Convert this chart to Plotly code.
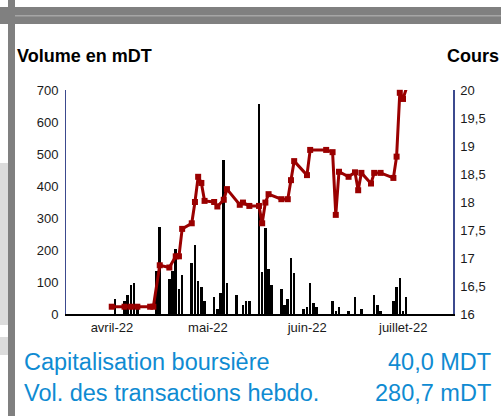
import plotly.graph_objects as go

# ---- data ----
price_dates = ["2022-03-31", "2022-04-04", "2022-04-06", "2022-04-08", "2022-04-12", "2022-04-13",
               "2022-04-15", "2022-04-18", "2022-04-20", "2022-04-21", "2022-04-22", "2022-04-25",
               "2022-04-26", "2022-04-27", "2022-04-28", "2022-04-29", "2022-05-02", "2022-05-03",
               "2022-05-05", "2022-05-06", "2022-05-10", "2022-05-11", "2022-05-13", "2022-05-16",
               "2022-05-17", "2022-05-18", "2022-05-19", "2022-05-23", "2022-05-25", "2022-05-26",
               "2022-05-27", "2022-05-31", "2022-06-01", "2022-06-06", "2022-06-08", "2022-06-09",
               "2022-06-10", "2022-06-13", "2022-06-15", "2022-06-16", "2022-06-17", "2022-06-20",
               "2022-06-21", "2022-06-23", "2022-06-27", "2022-06-28", "2022-06-29", "2022-06-30",
               "2022-07-01"]
prices = [16.13, 16.13, 16.13, 16.13, 16.13, 16.13,
          16.87, 16.83, 17.03, 17.03, 17.52, 17.62,
          18.0, 18.45, 18.34, 18.02, 18.0, 17.92,
          18.04, 18.23, 17.95, 17.99, 17.93, 17.93,
          17.62, 17.99, 18.14, 18.05, 18.05, 18.39,
          18.73, 18.48, 18.93, 18.93, 18.89, 17.77,
          18.54, 18.45, 18.53, 18.21, 18.52, 18.33,
          18.52, 18.52, 18.43, 18.81, 19.95, 19.84,
          20.02]

vol_dates = ["2022-04-01", "2022-04-04", "2022-04-05", "2022-04-06", "2022-04-07", "2022-04-08",
             "2022-04-14", "2022-04-15", "2022-04-18", "2022-04-19", "2022-04-20", "2022-04-21",
             "2022-04-22", "2022-04-25", "2022-04-26", "2022-04-27", "2022-04-28", "2022-04-29",
             "2022-05-02", "2022-05-03", "2022-05-04", "2022-05-05", "2022-05-06", "2022-05-09",
             "2022-05-11", "2022-05-12", "2022-05-13", "2022-05-16", "2022-05-17", "2022-05-18",
             "2022-05-19", "2022-05-20", "2022-05-23", "2022-05-24", "2022-05-25", "2022-05-26",
             "2022-05-27", "2022-05-30", "2022-05-31", "2022-06-01", "2022-06-02", "2022-06-03",
             "2022-06-08", "2022-06-09", "2022-06-10", "2022-06-13", "2022-06-15", "2022-06-17",
             "2022-06-21", "2022-06-22", "2022-06-23", "2022-06-27", "2022-06-28", "2022-06-29",
             "2022-06-30", "2022-07-01"]
volumes = [47, 41, 59, 90, 96, 15,
           135, 272, 109, 135, 202, 78,
           121, 159, 215, 104, 83, 41,
           52, 15, 65, 482, 96, 59,
           29, 41, 41, 656, 130, 270,
           140, 90, 78, 28, 47, 176,
           128, 15, 22, 96, 34, 21,
           41, 9, 21, 9, 52, 15,
           59, 28, 9, 41, 83, 114,
           9, 52]

month_ticks = ["2022-04-01", "2022-05-01", "2022-06-01", "2022-07-01"]
month_labels = ["avril-22", "mai-22", "juin-22", "juillet-22"]
vol_ticks = [0, 100, 200, 300, 400, 500, 600, 700]
price_ticks = [16, 16.5, 17, 17.5, 18, 18.5, 19, 19.5, 20]
price_labels = ["16", "16,5", "17", "17,5", "18", "18,5", "19", "19,5", "20"]

info_labels = ["Capitalisation boursière", "Vol. des transactions hebdo."]
info_values = ["40,0 MDT", "280,7 mDT"]

# ---- layout geometry (window pixels; body margin removed below) ----
W, H = 501, 416
L, R, T, B = 66, 48, 90, 102
PW, PH = W - L - R, H - T - B


def px(x):
    return (x - L) / PW


def py(y):
    return (H - B - y) / PH


FONT = "Arial, Liberation Sans, sans-serif"
BLUE = "#0f8bd2"
AXBLUE = "#3c4a8e"
RED = "#9a0000"

fig = go.Figure()
fig.add_trace(go.Bar(x=vol_dates, y=volumes, marker=dict(color="black", line=dict(width=0)),
                     width=0.8 * 86400000, yaxis="y", showlegend=False))
fig.add_trace(go.Scatter(x=price_dates, y=prices, yaxis="y2", mode="lines+markers",
                         line=dict(color=RED, width=3),
                         marker=dict(symbol="square", size=6, color=RED),
                         cliponaxis=False, showlegend=False))

fig.update_layout(
    width=W, height=H,
    margin=dict(l=L, r=R, t=T, b=B, pad=0),
    paper_bgcolor="white", plot_bgcolor="white",
    font=dict(family=FONT, size=13, color="#1a1a1a"),
    bargap=0,
    xaxis=dict(type="date", range=["2022-03-16 17:00", "2022-07-15 15:00"],
               tickvals=month_ticks, ticktext=month_labels, ticklabelshift=-3,
               showgrid=False, zeroline=False, showline=True, linecolor="black", linewidth=2,
               ticks="", tickfont=dict(size=13, color="#1a1a1a")),
    yaxis=dict(range=[0, 700], tickvals=vol_ticks, showgrid=False, zeroline=False,
               showline=True, linecolor=AXBLUE, linewidth=1, ticks="",
               ticklabelstandoff=4, tickfont=dict(size=13, color="#1a1a1a")),
    yaxis2=dict(range=[16, 20], overlaying="y", side="right", tickvals=price_ticks,
                ticktext=price_labels, showgrid=False, zeroline=False, showline=True,
                linecolor=AXBLUE, linewidth=1.5, ticks="", ticklabelstandoff=3,
                tickfont=dict(size=13, color="#1a1a1a")),
)

# frame decorations
shapes = [
    dict(type="rect", x0=px(0), x1=px(W), y0=py(24), y1=py(7), fillcolor="#808080", line_width=0),
    dict(type="rect", x0=px(15), x1=px(W), y0=py(16.5), y1=py(15), fillcolor="#a6a6a6", line_width=0),
    dict(type="rect", x0=px(8), x1=px(15), y0=py(H), y1=py(0), fillcolor="#808080", line_width=0),
    dict(type="rect", x0=px(0), x1=px(8), y0=py(325), y1=py(163), fillcolor="#dcdcdc", line_width=0),
    dict(type="rect", x0=px(0), x1=px(8), y0=py(355), y1=py(337), fillcolor="#dcdcdc", line_width=0),
]
for s in shapes:
    s.update(xref="paper", yref="paper", layer="above")
fig.update_layout(shapes=shapes)

ann = [
    dict(text="<b>Volume en mDT</b>", x=px(15), y=py(56), xanchor="left", yanchor="middle",
         font=dict(size=18, color="black")),
    dict(text="<b>Cours</b>", x=px(501), y=py(56), xanchor="right", yanchor="middle",
         font=dict(size=18, color="black")),
]
rows_y = [362, 393]
for lab, val, yy in zip(info_labels, info_values, rows_y):
    ann.append(dict(text=lab, x=px(22), y=py(yy), xanchor="left", yanchor="middle",
                    font=dict(size=23.5, color=BLUE)))
    ann.append(dict(text=val, x=px(493), y=py(yy), xanchor="right", yanchor="middle",
                    font=dict(size=23.5, color=BLUE)))
for a in ann:
    a.update(xref="paper", yref="paper", showarrow=False)
fig.update_layout(annotations=ann)

fig.write_html(
    "out.html",
    config={"displayModeBar": False},
    post_script="document.body.style.margin='0';document.body.style.overflow='hidden';"
                "document.documentElement.style.overflow='hidden';",
)
